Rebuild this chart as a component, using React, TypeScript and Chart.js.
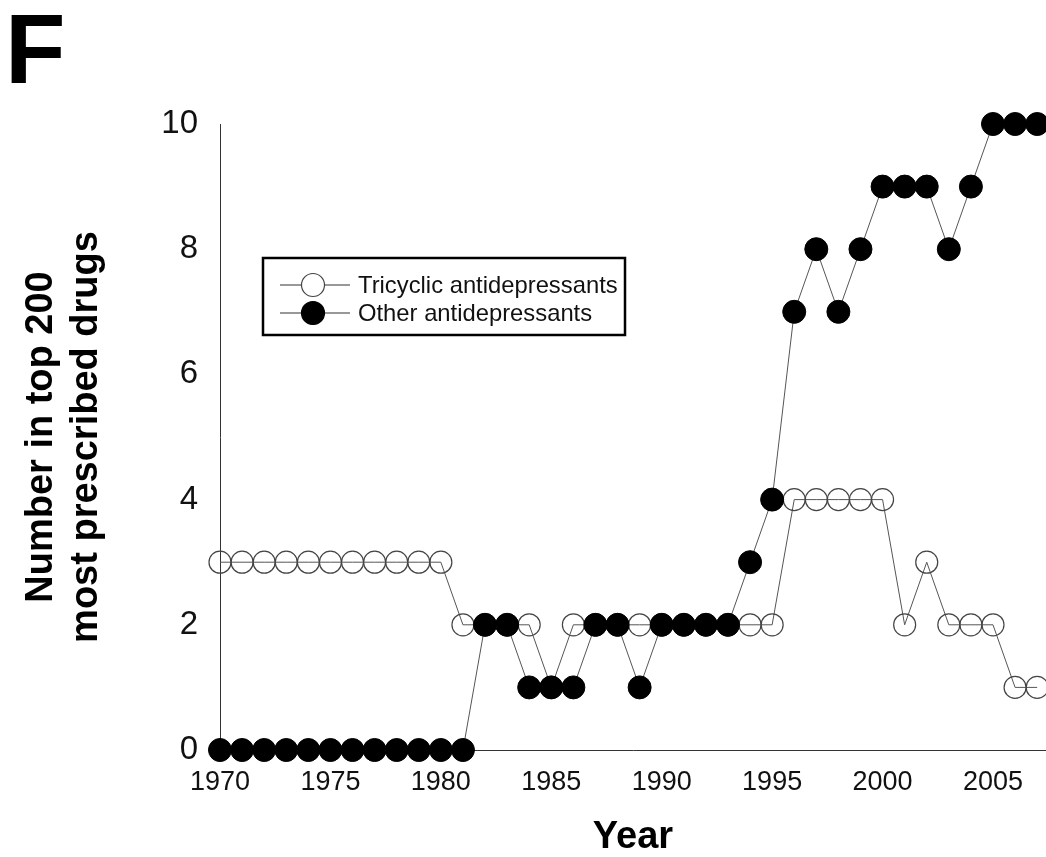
import React, { useEffect, useRef } from "react";
import { Chart, registerables } from "chart.js";

Chart.register(...registerables);

// Survey years and the number of drugs of each class ranked in the top 200
const YEARS = [
  1970, 1971, 1972, 1973, 1974, 1975, 1976, 1977, 1978, 1979,
  1980, 1981, 1982, 1983, 1984, 1985, 1986, 1987, 1988, 1989,
  1990, 1991, 1992, 1993, 1994, 1995, 1996, 1997, 1998, 1999,
  2000, 2001, 2002, 2003, 2004, 2005, 2006, 2007,
];

const TRICYCLIC = [
  3, 3, 3, 3, 3, 3, 3, 3, 3, 3,
  3, 2, 2, 2, 2, 1, 2, 2, 2, 2,
  2, 2, 2, 2, 2, 2, 4, 4, 4, 4,
  4, 2, 3, 2, 2, 2, 1, 1,
];

const OTHER = [
  0, 0, 0, 0, 0, 0, 0, 0, 0, 0,
  0, 0, 2, 2, 1, 1, 1, 2, 2, 1,
  2, 2, 2, 2, 3, 4, 7, 8, 7, 8,
  9, 9, 9, 8, 9, 10, 10, 10,
];

const SERIES_NAMES = ["Tricyclic antidepressants", "Other antidepressants"];
const X_TICKS = [1970, 1975, 1980, 1985, 1990, 1995, 2000, 2005];
const Y_TICKS = [0, 2, 4, 6, 8, 10];
const X_TITLE = "Year";
const Y_TITLE = ["Number in top 200", "most prescribed drugs"];
const PANEL_LABEL = "F";

const FONT = "'Liberation Sans', Arial, Helvetica, sans-serif";

// Panel letter and the boxed legend drawn over the plot
const decorations = {
  id: "decorations",
  afterDraw(chart: any) {
    const ctx = chart.ctx as CanvasRenderingContext2D;
    ctx.save();

    ctx.fillStyle = "#000";
    ctx.font = `bold 99px ${FONT}`;
    ctx.textAlign = "left";
    ctx.textBaseline = "alphabetic";
    ctx.fillText(PANEL_LABEL, 5, 83);

    const bx = 263;
    const by = 258;
    const bw = 362;
    const bh = 77;
    ctx.fillStyle = "#fff";
    ctx.fillRect(bx, by, bw, bh);
    ctx.lineWidth = 2.5;
    ctx.strokeStyle = "#000";
    ctx.strokeRect(bx, by, bw, bh);

    chart.data.datasets.forEach((ds: any, i: number) => {
      const cy = 285 + i * 28;
      ctx.beginPath();
      ctx.moveTo(280, cy);
      ctx.lineTo(350, cy);
      ctx.strokeStyle = "#333";
      ctx.lineWidth = 1.2;
      ctx.stroke();

      ctx.beginPath();
      ctx.arc(313, cy, 11.5, 0, Math.PI * 2);
      ctx.fillStyle = i === 0 ? "#fff" : "#000";
      ctx.fill();
      ctx.strokeStyle = i === 0 ? "#444" : "#000";
      ctx.lineWidth = 1.2;
      ctx.stroke();

      ctx.fillStyle = "#111";
      ctx.font = `23.8px ${FONT}`;
      ctx.textAlign = "left";
      ctx.textBaseline = "middle";
      ctx.fillText(ds.label, 358, cy + 1);
    });

    ctx.restore();
  },
};

export default function App() {
  const canvasRef = useRef<HTMLCanvasElement | null>(null);

  useEffect(() => {
    const canvas = canvasRef.current;
    if (!canvas) return;

    const chart = new Chart(canvas, {
      type: "line",
      data: {
        datasets: [
          {
            label: SERIES_NAMES[0],
            data: YEARS.map((year, i) => ({ x: year, y: TRICYCLIC[i] })),
            borderColor: "#555",
            borderWidth: 1,
            pointRadius: 11,
            pointBackgroundColor: "rgba(0,0,0,0)",
            pointBorderColor: "#444",
            pointBorderWidth: 1.2,
            tension: 0,
            clip: false,
            order: 1,
          },
          {
            label: SERIES_NAMES[1],
            data: YEARS.map((year, i) => ({ x: year, y: OTHER[i] })),
            borderColor: "#555",
            borderWidth: 1,
            pointRadius: 11.5,
            pointBackgroundColor: "#000",
            pointBorderColor: "#000",
            pointBorderWidth: 1,
            tension: 0,
            clip: false,
            order: 0,
          },
        ],
      },
      options: {
        responsive: false,
        animation: false,
        layout: { autoPadding: false, padding: { top: 124, right: 0, bottom: 0, left: 0 } },
        plugins: {
          legend: { display: false },
          tooltip: { enabled: false },
        },
        scales: {
          x: {
            type: "linear",
            min: 1970,
            max: 2007.4,
            afterBuildTicks: (scale: any) => {
              scale.ticks = X_TICKS.map((v) => ({ value: v }));
            },
            afterFit: (scale: any) => {
              scale.height = 107;
            },
            ticks: {
              callback: (v: any) => String(v),
              autoSkip: false,
              maxRotation: 0,
              padding: 16,
              color: "#111",
              font: { family: FONT, size: 27 },
            },
            grid: { display: false, drawTicks: false },
            border: { display: true, color: "#333", width: 1 },
            title: {
              display: true,
              text: X_TITLE,
              color: "#000",
              font: { family: FONT, size: 38, weight: "bold", lineHeight: 1 },
              padding: { top: 0, bottom: 0 },
            },
          },
          y: {
            type: "linear",
            min: 0,
            max: 10,
            afterBuildTicks: (scale: any) => {
              scale.ticks = Y_TICKS.map((v) => ({ value: v }));
            },
            afterFit: (scale: any) => {
              scale.width = 220;
            },
            ticks: {
              padding: 22,
              color: "#111",
              font: { family: FONT, size: 33 },
            },
            grid: { display: false, drawTicks: false },
            border: { display: true, color: "#333", width: 1 },
            title: {
              display: true,
              text: Y_TITLE,
              color: "#000",
              font: { family: FONT, size: 38, weight: "bold", lineHeight: 1.18 },
              padding: { top: 19, bottom: 0 },
            },
          },
        },
      },
      plugins: [decorations],
    } as any);

    return () => {
      chart.destroy();
    };
  }, []);

  return (
    <div style={{ position: "absolute", left: 0, top: 0, width: 1046, height: 857, background: "#fff" }}>
      <canvas ref={canvasRef} width={1046} height={857} style={{ display: "block" }} />
    </div>
  );
}
